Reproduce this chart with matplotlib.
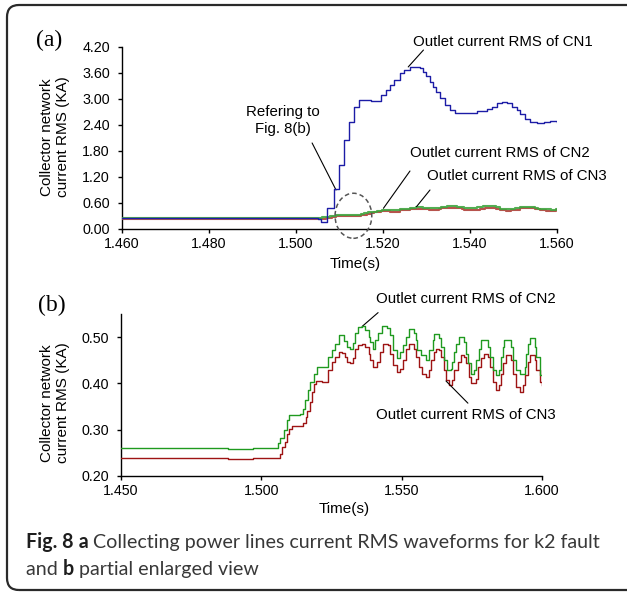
import matplotlib
matplotlib.use('Agg')
import matplotlib.pyplot as plt
import matplotlib.font_manager as fm
from matplotlib.patches import FancyBboxPatch, Ellipse
from matplotlib.transforms import IdentityTransform
from matplotlib.ticker import FormatStrFormatter

# ---------------- data ----------------
# (a) CN1 outlet current RMS (kA), step trace
cn1_t = [1.460, 1.5050, 1.5058, 1.5072, 1.5088, 1.5099, 1.5111, 1.5122, 1.5134, 1.5145,
         1.5172, 1.5195, 1.5206, 1.5215, 1.5226, 1.5238, 1.5249, 1.5261, 1.5272, 1.5284,
         1.5292, 1.5299, 1.5307, 1.5315, 1.5322, 1.5330, 1.5342, 1.5353, 1.5365, 1.5392,
         1.5415, 1.5438, 1.5450, 1.5461, 1.5473, 1.5484, 1.5496, 1.5507, 1.5515, 1.5526,
         1.5538, 1.5553, 1.5569, 1.5584, 1.5600]
cn1_v = [0.26, 0.22, 0.17, 0.48, 0.92, 1.48, 2.05, 2.48, 2.82, 2.98,
         2.96, 3.10, 3.21, 3.32, 3.44, 3.59, 3.67, 3.73, 3.75, 3.71,
         3.63, 3.52, 3.40, 3.28, 3.17, 3.02, 2.86, 2.75, 2.67, 2.68,
         2.72, 2.76, 2.82, 2.90, 2.92, 2.90, 2.82, 2.75, 2.65, 2.55,
         2.48, 2.45, 2.48, 2.50, 2.47]

# CN2 outlet current RMS (kA)
cn2_t = [1.450, 1.4660, 1.4880, 1.4970, 1.5059, 1.5068, 1.5079, 1.5091, 1.5097, 1.5139,
         1.5150, 1.5156, 1.5166, 1.5174, 1.5186, 1.5198, 1.5239, 1.5251, 1.5263, 1.5275,
         1.5293, 1.5305, 1.5316, 1.5328, 1.5334, 1.5346, 1.5358, 1.5370, 1.5382, 1.5387,
         1.5399, 1.5405, 1.5417, 1.5429, 1.5447, 1.5459, 1.5470, 1.5482, 1.5494, 1.5503,
         1.5514, 1.5526, 1.5544, 1.5550, 1.5556, 1.5568, 1.5586, 1.5598, 1.5610, 1.5616,
         1.5634, 1.5640, 1.5652, 1.5663, 1.5675, 1.5681, 1.5687, 1.5693, 1.5705, 1.5723,
         1.5729, 1.5735, 1.5747, 1.5759, 1.5765, 1.5777, 1.5783, 1.5807, 1.5813, 1.5825,
         1.5837, 1.5848, 1.5854, 1.5860, 1.5866, 1.5890, 1.5896, 1.5908, 1.5920, 1.5938,
         1.5944, 1.5950, 1.5956, 1.5974, 1.5980, 1.5992, 1.6000]
cn2_v = [0.260, 0.259, 0.257, 0.259, 0.270, 0.281, 0.299, 0.320, 0.331, 0.333,
         0.345, 0.363, 0.385, 0.403, 0.421, 0.435, 0.457, 0.471, 0.484, 0.504,
         0.492, 0.479, 0.475, 0.487, 0.508, 0.522, 0.525, 0.516, 0.500, 0.489,
         0.475, 0.493, 0.508, 0.523, 0.520, 0.504, 0.471, 0.454, 0.468, 0.482,
         0.500, 0.518, 0.508, 0.493, 0.471, 0.461, 0.450, 0.471, 0.493, 0.506,
         0.497, 0.479, 0.450, 0.428, 0.432, 0.446, 0.468, 0.486, 0.500, 0.489,
         0.464, 0.443, 0.421, 0.428, 0.450, 0.475, 0.493, 0.479, 0.457, 0.428,
         0.418, 0.428, 0.457, 0.479, 0.493, 0.479, 0.450, 0.428, 0.421, 0.435,
         0.464, 0.486, 0.497, 0.479, 0.457, 0.418, 0.418]

# CN3 outlet current RMS (kA)
cn3_t = [1.450, 1.4880, 1.4970, 1.5068, 1.5073, 1.5083, 1.5091, 1.5097, 1.5109, 1.5150,
         1.5158, 1.5164, 1.5172, 1.5180, 1.5188, 1.5196, 1.5216, 1.5239, 1.5251, 1.5263,
         1.5275, 1.5287, 1.5299, 1.5305, 1.5316, 1.5328, 1.5334, 1.5346, 1.5358, 1.5370,
         1.5382, 1.5387, 1.5399, 1.5411, 1.5423, 1.5435, 1.5453, 1.5459, 1.5470, 1.5482,
         1.5494, 1.5506, 1.5514, 1.5526, 1.5544, 1.5550, 1.5562, 1.5574, 1.5586, 1.5598,
         1.5604, 1.5616, 1.5622, 1.5634, 1.5640, 1.5652, 1.5658, 1.5669, 1.5681, 1.5687,
         1.5699, 1.5711, 1.5723, 1.5729, 1.5741, 1.5747, 1.5765, 1.5771, 1.5783, 1.5795,
         1.5807, 1.5813, 1.5825, 1.5837, 1.5848, 1.5854, 1.5860, 1.5872, 1.5890, 1.5896,
         1.5908, 1.5920, 1.5932, 1.5938, 1.5950, 1.5956, 1.5974, 1.5980, 1.5992, 1.6000]
cn3_v = [0.239, 0.237, 0.239, 0.248, 0.262, 0.273, 0.291, 0.302, 0.307, 0.313,
         0.327, 0.341, 0.359, 0.381, 0.399, 0.405, 0.403, 0.428, 0.446, 0.457,
         0.468, 0.466, 0.457, 0.446, 0.443, 0.454, 0.475, 0.482, 0.486, 0.479,
         0.464, 0.450, 0.435, 0.446, 0.468, 0.486, 0.482, 0.464, 0.439, 0.425,
         0.432, 0.450, 0.475, 0.486, 0.475, 0.457, 0.435, 0.421, 0.414, 0.428,
         0.450, 0.468, 0.475, 0.472, 0.457, 0.428, 0.407, 0.396, 0.407, 0.428,
         0.446, 0.461, 0.457, 0.443, 0.414, 0.400, 0.410, 0.435, 0.454, 0.464,
         0.457, 0.435, 0.403, 0.385, 0.396, 0.421, 0.443, 0.461, 0.450, 0.421,
         0.392, 0.381, 0.396, 0.418, 0.446, 0.461, 0.450, 0.428, 0.403, 0.396]

xticks_a = [1.460, 1.480, 1.500, 1.520, 1.540, 1.560]
yticks_a = [0.00, 0.60, 1.20, 1.80, 2.40, 3.00, 3.60, 4.20]
xticks_b = [1.450, 1.500, 1.550, 1.600]
yticks_b = [0.20, 0.30, 0.40, 0.50]

label_cn1 = "Outlet current RMS of CN1"
label_cn2 = "Outlet current RMS of CN2"
label_cn3 = "Outlet current RMS of CN3"
label_ref = "Refering to\nFig. 8(b)"
ylabel = "Collector network\ncurrent RMS (KA)"
xlabel = "Time(s)"

# ---------------- style ----------------
SANS = 'Liberation Sans'
SERIF = 'Liberation Serif'
plt.rcParams['font.family'] = [SANS, 'DejaVu Sans']
plt.rcParams['font.size'] = 10

TICK_FS = 10.3
ANN_FS = 10.8
LAB_FS = 11

BLUE = '#1c1ca6'
GREEN = '#1f9a1f'
RED = '#9e1414'

W, H = 627, 592
fig = plt.figure(figsize=(W / 100, H / 100), dpi=100)
fig.patch.set_facecolor('white')


def px_axes(left, top, right, bottom):
    return fig.add_axes([left / W, 1 - bottom / H, (right - left) / W, (bottom - top) / H])


axA = px_axes(122, 47, 557, 229)
axB = px_axes(121, 314, 542, 475.7)

for ax in (axA, axB):
    for s in ('top', 'right'):
        ax.spines[s].set_visible(False)
    for s in ('left', 'bottom'):
        ax.spines[s].set_linewidth(1.0)
    ax.tick_params(direction='out', length=2.8, width=1.0, labelsize=TICK_FS)
    ax.tick_params(axis='y', pad=6.0)
    ax.tick_params(axis='x', pad=3)
    ax.set_facecolor('white')

# ---- (a) ----
axA.plot(cn3_t, cn3_v, drawstyle='steps-post', color='#b0403a', lw=1.5, alpha=0.9, zorder=3)
axA.plot(cn2_t, cn2_v, drawstyle='steps-post', color='#3fa53f', lw=1.5, alpha=0.9, zorder=3)
axA.plot(cn1_t, cn1_v, drawstyle='steps-post', color=BLUE, lw=1.0, zorder=4)
axA.set_xlim(1.46, 1.56)
axA.set_ylim(0, 4.2)
axA.set_xticks(xticks_a)
axA.set_yticks(yticks_a)
axA.xaxis.set_major_formatter(FormatStrFormatter('%.3f'))
axA.yaxis.set_major_formatter(FormatStrFormatter('%.2f'))

circ = Ellipse((1.5132, 0.305), 0.00844, 1.04, fill=False, ls=(0, (3, 2)),
               lw=1.1, edgecolor='#555555', clip_on=False, zorder=5)
axA.add_patch(circ)


def leader(ax, p0, p1):
    ax.annotate('', xy=p1, xytext=p0,
                arrowprops=dict(arrowstyle='-', lw=0.8, color='black',
                                shrinkA=0, shrinkB=0),
                annotation_clip=False)


axA.text(1.5476, 4.315, label_cn1, ha='center', va='center', fontsize=ANN_FS, clip_on=False)
leader(axA, (1.5293, 4.13), (1.5258, 3.74))
axA.text(1.4970, 2.515, label_ref, ha='center', va='center', fontsize=ANN_FS,
         linespacing=1.27, clip_on=False)
leader(axA, (1.5037, 1.985), (1.5092, 0.90))
axA.text(1.5469, 1.754, label_cn2, ha='center', va='center', fontsize=ANN_FS, clip_on=False)
leader(axA, (1.5262, 1.338), (1.5201, 0.478))
axA.text(1.5508, 1.223, label_cn3, ha='center', va='center', fontsize=ANN_FS, clip_on=False)
leader(axA, (1.5308, 0.90), (1.5277, 0.515))

axA.set_xlabel(xlabel, fontsize=LAB_FS)
axA.xaxis.set_label_coords(0.536, -0.192)
axA.xaxis.label.set_va('center')
axA.set_ylabel(ylabel, fontsize=LAB_FS, linespacing=1.2)
axA.yaxis.set_label_coords(-0.154, 0.505)
axA.yaxis.label.set_va('center')
axA.yaxis.label.set_ha('center')

# ---- (b) ----
axB.plot(cn3_t, cn3_v, drawstyle='steps-post', color=RED, lw=1.0, zorder=3)
axB.plot(cn2_t, cn2_v, drawstyle='steps-post', color=GREEN, lw=1.0, zorder=4)
axB.set_xlim(1.45, 1.60)
axB.set_ylim(0.20, 0.55)
axB.set_xticks(xticks_b)
axB.set_yticks(yticks_b)
axB.xaxis.set_major_formatter(FormatStrFormatter('%.3f'))
axB.yaxis.set_major_formatter(FormatStrFormatter('%.2f'))

axB.text(1.5729, 0.5816, label_cn2, ha='center', va='center', fontsize=ANN_FS, clip_on=False)
leader(axB, (1.5416, 0.553), (1.5359, 0.523))
axB.text(1.5729, 0.331, label_cn3, ha='center', va='center', fontsize=ANN_FS, clip_on=False)
leader(axB, (1.5736, 0.357), (1.5658, 0.405))

axB.set_xlabel(xlabel, fontsize=LAB_FS)
axB.xaxis.set_label_coords(0.530, -0.206)
axB.xaxis.label.set_va('center')
axB.set_ylabel(ylabel, fontsize=LAB_FS, linespacing=1.2)
axB.yaxis.set_label_coords(-0.157, 0.449)
axB.yaxis.label.set_va('center')
axB.yaxis.label.set_ha('center')

# panel letters
fig.text(49, H - 40, "(a)", transform=IdentityTransform(), family=[SERIF, 'DejaVu Serif'],
         fontsize=17, ha='center', va='center')
fig.text(52, H - 305, "(b)", transform=IdentityTransform(), family=[SERIF, 'DejaVu Serif'],
         fontsize=17, ha='center', va='center')

# rounded frame
frame = FancyBboxPatch((7, 2), 650, 585, boxstyle='round,pad=0,rounding_size=12',
                       transform=IdentityTransform(), fill=False, lw=1.6,
                       edgecolor='#2a2a2a', zorder=10)
fig.add_artist(frame)

# caption
names = {f.name for f in fm.fontManager.ttflist}
cap_font = 'Lato' if 'Lato' in names else 'DejaVu Sans'
renderer = fig.canvas.get_renderer()

line1 = [("Fig. 8", True), (" a", True), (" Collecting power lines current RMS waveforms for k2 fault", False)]
line2 = [("and ", False), ("b", True), (" partial enlarged view", False)]


def draw_line(parts, x0, y, size):
    x = x0
    arts = []
    for s, bold in parts:
        t = fig.text(x, y, s, transform=IdentityTransform(), fontsize=size,
                     family=[cap_font, 'DejaVu Sans'],
                     fontweight='bold' if bold else 'normal',
                     color='#1e1e1e' if bold else '#383838',
                     ha='left', va='baseline')
        bb = t.get_window_extent(renderer)
        x = bb.x1
        arts.append(t)
    return x, arts


end, arts = draw_line(line1, 26, H - 548, 13)
width = end - 26
for a in arts:
    a.remove()
size = 13 * 574.0 / width
draw_line(line1, 26, H - 548, size)
draw_line(line2, 26, H - 575, size)

fig.savefig('out.png', dpi=100, facecolor='white')
